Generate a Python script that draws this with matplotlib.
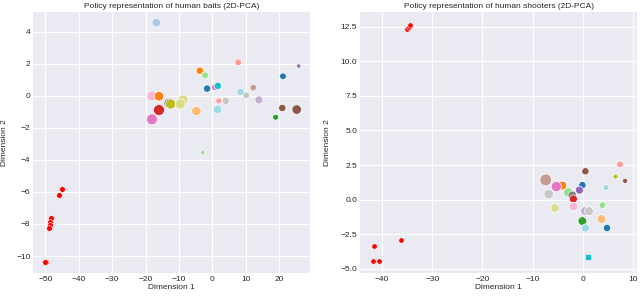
import matplotlib
matplotlib.use("Agg")
import matplotlib.pyplot as plt

# Policy embeddings, 2D PCA

# human baits
bait_x = [-16.8, -3.8, -2.2, 7.7, 25.8, 21.1, -1.6, 0.7, 1.6, 8.4, 10.1, 12.2,
          13.9, 1.9, 4.0, 1.5, -4.8, 20.9, 25.2, 18.9, -18.1, -16.0, -13.0,
          -12.5, -8.8, -9.6, -16.0, -18.1, -2.9]
bait_y = [4.58, 1.58, 1.29, 2.1, 1.87, 1.23, 0.46, 0.54, 0.63, 0.25, 0.04, 0.52,
          -0.25, -0.31, -0.31, -0.85, -0.94, -0.75, -0.85, -1.33, 0.0, -0.02,
          -0.46, -0.5, -0.25, -0.5, -0.88, -1.46, -3.54]
bait_size = [33, 23, 19, 19, 8, 19, 23, 19, 23, 23, 19, 19, 28, 15, 23, 33, 39,
             23, 39, 15, 45, 39, 45, 45, 45, 45, 52, 52, 8]
bait_col = ["#aec7e8", "#ff7f0e", "#98df8a", "#ff9896", "#9467bd", "#1f77b4",
            "#1f77b4", "#e377c2", "#17becf", "#9edae5", "#c7c7c7", "#c49c94",
            "#c5b0d5", "#ff9896", "#c7c7c7", "#9edae5", "#ffbb78", "#8c564b",
            "#8c564b", "#2ca02c", "#f7b6d2", "#ff7f0e", "#7f7f7f", "#bcbd22",
            "#dbdb8d", "#dbdb8d", "#d62728", "#e377c2", "#98df8a"]
bait_red_x = [-44.9, -45.8, -48.2, -48.6, -48.7, -48.8, -49.9, -50.1]
bait_red_y = [-5.79, -6.21, -7.65, -7.85, -8.04, -8.25, -10.4, -10.35]

# human shooters
shoot_x = [7.4, 0.5, 6.5, 8.4, -7.4, -4.1, -5.3, -0.1, 4.6, -0.7, -6.8, -2.9,
           -2.1, -1.9, -5.6, -1.9, 3.9, 0.4, 1.2, 3.7, -0.1, 0.5, 4.8]
shoot_y = [2.55, 2.05, 1.67, 1.36, 1.43, 1.02, 0.95, 1.05, 0.88, 0.69, 0.4, 0.52,
           0.31, 0.05, -0.6, -0.5, -0.4, -0.83, -0.83, -1.4, -1.55, -2.05, -2.05]
shoot_size = [19, 23, 11, 11, 60, 33, 45, 23, 15, 28, 39, 39, 33, 28, 33, 33,
              19, 33, 33, 33, 33, 28, 23]
shoot_col = ["#ff9896", "#8c564b", "#bcbd22", "#8c564b", "#c49c94", "#ff7f0e",
             "#e377c2", "#1f77b4", "#9edae5", "#9467bd", "#c7c7c7", "#98df8a",
             "#7f7f7f", "#d62728", "#dbdb8d", "#f7b6d2", "#98df8a", "#c5b0d5",
             "#c7c7c7", "#ffbb78", "#2ca02c", "#9edae5", "#1f77b4"]
shoot_sq_x = [1.05]
shoot_sq_y = [-4.17]
shoot_red_x = [-36.2, -41.7, -41.9, -40.7, -35.0, -34.7, -34.4]
shoot_red_y = [-2.95, -3.33, -4.45, -4.43, 12.34, 12.48, 12.62]

plt.style.use("seaborn-v0_8-darkgrid")
plt.rcParams["font.family"] = ["Liberation Sans", "DejaVu Sans"]
plt.rcParams["font.size"] = 6

scale = 1.2  # marker area fudge

fig = plt.figure(figsize=(6.4, 2.98), dpi=100)
ax1 = fig.add_axes([0.052, 0.084, 0.433, 0.876])
ax2 = fig.add_axes([0.5625, 0.084, 0.433, 0.876])

# left panel
ax1.scatter(bait_x, bait_y, s=[v * scale for v in bait_size], c=bait_col,
            edgecolors="white", linewidths=0.5, zorder=3)
ax1.scatter(bait_red_x, bait_red_y, s=17, c="red", edgecolors="white", linewidths=0.4, zorder=3)
ax1.set_xlim(-53.6, 29.3)
ax1.set_ylim(-11.06, 5.25)
ax1.set_xticks([-50, -40, -30, -20, -10, 0, 10, 20])
ax1.set_yticks([-10, -8, -6, -4, -2, 0, 2, 4])
ax1.set_title("Policy representation of human baits (2D-PCA)", fontsize=6, pad=3)
ax1.set_xlabel("Dimension 1", fontsize=6, labelpad=1)
ax1.set_ylabel("Dimension 2", fontsize=6, labelpad=6)

# right panel
ax2.scatter(shoot_x, shoot_y, s=[v * scale for v in shoot_size], c=shoot_col,
            edgecolors="white", linewidths=0.5, zorder=3)
ax2.scatter(shoot_sq_x, shoot_sq_y, s=13, c="#17becf", marker="s", edgecolors="white", linewidths=0.4, zorder=3)
ax2.scatter(shoot_red_x, shoot_red_y, s=15, c="red", edgecolors="white", linewidths=0.4, zorder=3)
ax2.set_xlim(-44.4, 10.8)
ax2.set_ylim(-5.3, 13.57)
ax2.set_xticks([-40, -30, -20, -10, 0, 10])
ax2.set_yticks([-5, -2.5, 0, 2.5, 5, 7.5, 10, 12.5])
ax2.set_title("Policy representation of human shooters (2D-PCA)", fontsize=6, pad=3)
ax2.set_xlabel("Dimension 1", fontsize=6, labelpad=1)
ax2.set_ylabel("Dimension 2", fontsize=6, labelpad=7)

for ax in (ax1, ax2):
    ax.tick_params(labelsize=6, pad=2, length=0)

fig.savefig("out.png", dpi=100)
